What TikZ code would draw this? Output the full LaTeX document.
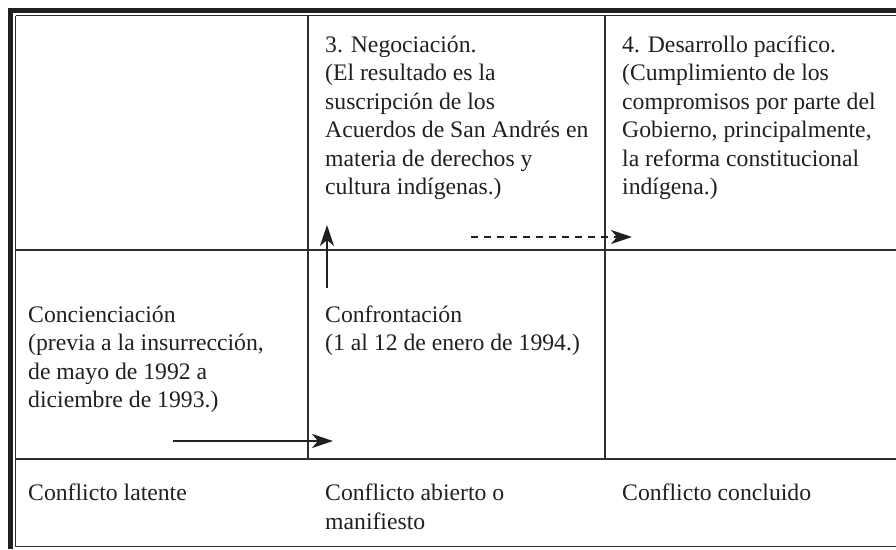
\documentclass[tikz,border=0pt]{standalone}
\usepackage{fontspec}
\setmainfont{Liberation Serif}
\usepackage{xcolor}
\usetikzlibrary{arrows.meta}
\definecolor{inkblack}{HTML}{231F20}
\definecolor{rulegray}{HTML}{2E2E2E}

\begin{document}
\begin{tikzpicture}[x=1pt,y=-1pt,
  cell/.style={anchor=base west,inner sep=0pt,align=left,text=inkblack,
    font=\fontsize{23.7}{28.5}\selectfont},
  rule/.style={rulegray,line width=1.8pt},
  flow/.style={inkblack,line width=2.6pt,-{Stealth[length=21pt,width=14pt,inset=6pt]}}]
\useasboundingbox (0,0) rectangle (896,549);
\draw[inkblack,line width=4.5pt] (10.3,549) -- (10.3,10.3) -- (896,10.3);
\draw[rule] (15.5,15.5) -- (15.5,546.5);
\foreach \y in {15.5,250,459,546.5} {
  \draw[rule] (15.5,\y) -- (896,\y);
}
\foreach \x in {308,605} {
  \draw[rule] (\x,15.5) -- (\x,459);
}
% anchors sit on the last baseline of each cell
\node[cell] (neg) at (325,194.5) {3. Negociación.\\(El resultado es la\\suscripción de los\\Acuerdos de San Andrés en\\materia de derechos y\\cultura indígenas.)};
\node[cell] (des) at (622,194.5) {4. Desarrollo pacífico.\\(Cumplimiento de los\\compromisos por parte del\\Gobierno, principalmente,\\la reforma constitucional\\indígena.)};
\node[cell] (conc) at (28,407.5) {Concienciación\\(previa a la insurrección,\\de mayo de 1992 a\\diciembre de 1993.)};
\node[cell] (conf) at (325,350.5) {Confrontación\\(1 al 12 de enero de 1994.)};
\node[cell] (lat) at (28,500.5) {Conflicto latente};
\node[cell] (abi) at (325,529) {Conflicto abierto o\\manifiesto};
\node[cell] (fin) at (622,500.5) {Conflicto concluido};
\coordinate (h0) at (173,441);
\coordinate (h1) at (333,441);
\coordinate (v0) at (327,288);
\coordinate (v1) at (327,225);
\coordinate (d0) at (471,237);
\coordinate (d1) at (632,237);
\draw[flow] (h0) -- (h1);
\draw[flow] (v0) -- (v1);
\draw[flow,dash pattern=on 7pt off 6pt] (d0) -- (d1);
\end{tikzpicture}
\end{document}
